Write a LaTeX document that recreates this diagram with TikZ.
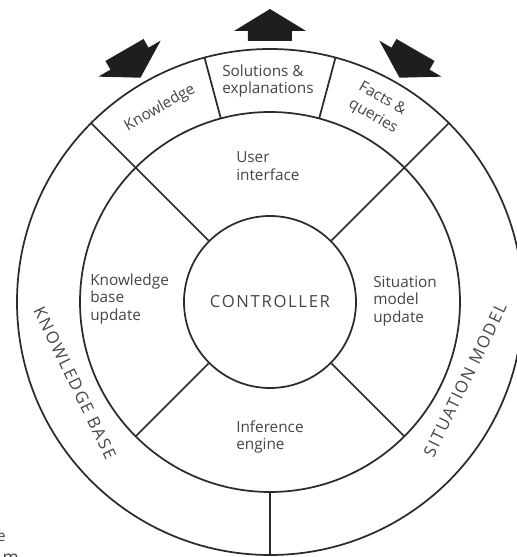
\documentclass[tikz,border=0pt]{standalone}
\usepackage{fontspec}
\setmainfont{Open Sans}
\newfontfamily\capsfont[LetterSpace=10]{Open Sans}

\definecolor{linecol}{HTML}{2B2B2B}
\definecolor{txtcol}{HTML}{464646}
\definecolor{arrowcol}{HTML}{1E1E1E}

\begin{document}
\begin{tikzpicture}[x=0.75pt,y=0.75pt,
  ring/.style={draw=linecol, line width=1.3pt},
  divider/.style={draw=linecol, line width=1.3pt},
  lbl/.style={text=txtcol, font=\fontsize{11.5}{13}\selectfont, align=left, inner sep=0pt},
  caps/.style={text=txtcol, font=\capsfont\fontsize{12.5}{14}\selectfont, inner sep=0pt},
  core/.style={circle, draw=linecol, line width=1.3pt, minimum size=129pt, inner sep=0pt,
               text=txtcol, font=\capsfont\fontsize{12.5}{14}\selectfont},
  bigarrow/.style={fill=arrowcol, draw=none}]

% page area
\fill[white] (-270,-255) rectangle (247,302);
\useasboundingbox (-270,-255) rectangle (247,302);

% rings
\draw[ring] (0,0) circle (253);
\draw[ring] (0,0) circle (190);
\node[core] (ctrl) at (0,0) {CONTROLLER};

% sector dividers
\draw[divider] (ctrl.135) -- (135:253);
\draw[divider] (ctrl.45)  -- (45:253);
\draw[divider] (ctrl.225) -- (225:190);
\draw[divider] (ctrl.315) -- (315:190);
\draw[divider] (270:190) -- (270:253);
\draw[divider] (105:190) -- (105:253);
\draw[divider] (75:190)  -- (75:253);

% outgoing arrow
\fill[bigarrow] (-22,261) -- (22,261) -- (22,271) -- (36,271) -- (0,293)
  -- (-36,271) -- (-22,271) -- cycle;
% incoming arrows
\begin{scope}[rotate=30]
  \fill[bigarrow] (0,259) -- (36,281) -- (22,281) -- (22,291) -- (-22,291)
    -- (-22,281) -- (-36,281) -- cycle;
\end{scope}
\begin{scope}[rotate=-30]
  \fill[bigarrow] (0,259) -- (36,281) -- (22,281) -- (22,291) -- (-22,291)
    -- (-22,281) -- (-36,281) -- cycle;
\end{scope}

% interface band
\node[lbl, rotate=30] (know) at (-110,194) {Knowledge};
\node[lbl, anchor=west] (sol) at (-48,221) {Solutions \&\\explanations};
\node[lbl, rotate=-30] (facts) at (108,194) {Facts \&\\[2pt]queries};

% inner sectors
\node[lbl, anchor=west] (ui) at (-34,136) {User\\interface};
\node[lbl, anchor=west] (kbu) at (-180,3) {Knowledge\\base\\update};
\node[lbl, anchor=west] (smu) at (103,1) {Situation\\model\\update};
\node[lbl, anchor=west] (inf) at (-34,-135) {Inference\\engine};

% outer band
\node[caps, rotate=-64] (kb) at (-195,-81) {KNOWLEDGE BASE};
\node[caps, rotate=64] (sm) at (195,-78) {SITUATION MODEL};

% caption fragments at the edge
\node[lbl, anchor=base east] (frag1) at (-264,-239) {e};
\node[lbl, anchor=base east, font=\fontsize{13}{14}\selectfont] (frag2) at (-251,-261) {m};
\end{tikzpicture}
\end{document}
